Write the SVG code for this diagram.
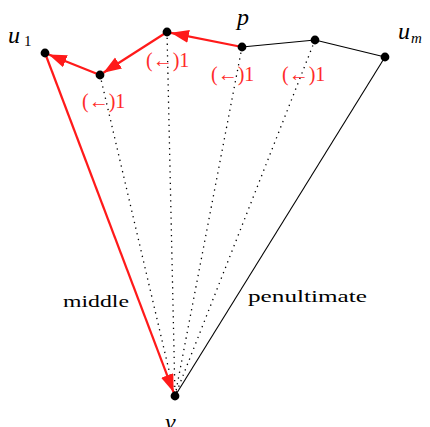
<svg xmlns="http://www.w3.org/2000/svg" width="430" height="427" viewBox="0 0 430 427">
<defs>
<style>
.dot{fill:#000}
.red{stroke:#ff1a1a;stroke-width:2.2;fill:none}
.blk{stroke:#000;stroke-width:1.1;fill:none}
.dotted{stroke:#000;stroke-width:1.3;stroke-dasharray:1.3 4.5;fill:none}
text{font-family:'Liberation Serif','Times New Roman',serif}
.lbl{font-size:20px;fill:#ff2a2a}
.math{font-style:italic;font-size:24px;fill:#000}
.sub{font-size:15px;fill:#000}
.word{font-size:17px;fill:#000}
</style>
<marker id="ah" markerUnits="userSpaceOnUse" markerWidth="20" markerHeight="14" refX="18" refY="6.5" orient="auto">
<path d="M0,0 L18,6.5 L0,13 Z" fill="#ff1a1a"/>
</marker>
</defs>
<g id="connectors">
<line class="dotted" x1="100" y1="75" x2="175" y2="396"/>
<line class="dotted" x1="167" y1="32" x2="175" y2="396"/>
<line class="dotted" x1="242" y1="47" x2="175" y2="396"/>
<line class="dotted" x1="315" y1="40" x2="175" y2="396"/>
<line class="blk" x1="242" y1="47" x2="315" y2="40"/>
<line class="blk" x1="315" y1="40" x2="385" y2="57"/>
<line class="blk" x1="385" y1="57" x2="175" y2="396"/>
<line class="red" x1="167" y1="32" x2="103.4" y2="72.8" marker-end="url(#ah)"/>
<line class="red" x1="100" y1="75" x2="48.7" y2="54.5" marker-end="url(#ah)"/>
<line class="red" x1="242" y1="47" x2="170.9" y2="32.8" marker-end="url(#ah)"/>
<line class="red" x1="45" y1="53" x2="173.6" y2="392.3" marker-end="url(#ah)"/>
</g>
<g id="u1"><circle class="dot" cx="45" cy="53" r="4.4"/><text class="math" x="8" y="43">u</text><text class="sub" x="24" y="46">1</text></g>
<g id="n2"><circle class="dot" cx="100" cy="75" r="4.4"/><text class="lbl" x="82" y="108">(←)1</text></g>
<g id="n3"><circle class="dot" cx="167" cy="32" r="4.4"/><text class="lbl" x="146" y="67">(←)1</text></g>
<g id="p"><circle class="dot" cx="242" cy="47" r="4.4"/><text class="math" x="237" y="25">p</text><text class="lbl" x="211" y="81">(←)1</text></g>
<g id="n5"><circle class="dot" cx="315" cy="40" r="4.4"/><text class="lbl" x="282" y="81">(←)1</text></g>
<g id="um"><circle class="dot" cx="385" cy="57" r="4.4"/><text class="math" x="398" y="39">u</text><text class="sub" x="411" y="43" font-style="italic">m</text></g>
<g id="v"><circle class="dot" cx="175" cy="396" r="4.4"/><text class="math" x="165" y="430">v</text></g>
<g id="labels"><text class="word" x="63" y="307" textLength="66" lengthAdjust="spacingAndGlyphs">middle</text><text class="word" x="248" y="302" textLength="119" lengthAdjust="spacingAndGlyphs">penultimate</text></g>
</svg>
